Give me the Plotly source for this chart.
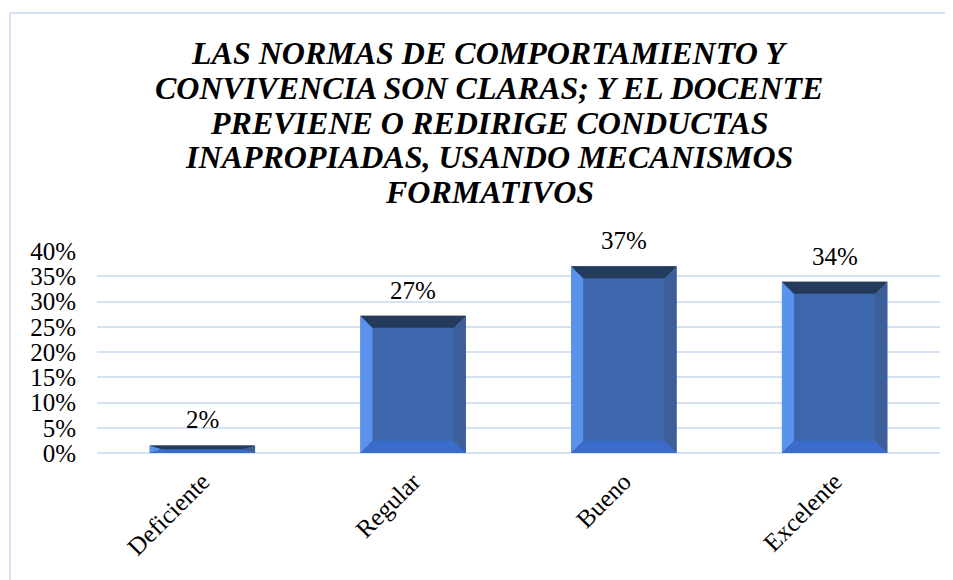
import plotly.graph_objects as go

# Datos
categorias = ["Deficiente", "Regular", "Bueno", "Excelente"]
valores = [0.015, 0.272, 0.370, 0.339]
etiquetas = ["2%", "27%", "37%", "34%"]
ticks_y = [0, 0.05, 0.10, 0.15, 0.20, 0.25, 0.30, 0.35, 0.40]

titulo = ["LAS NORMAS DE COMPORTAMIENTO Y",
          "CONVIVENCIA SON CLARAS; Y EL DOCENTE",
          "PREVIENE O REDIRIGE CONDUCTAS",
          "INAPROPIADAS, USANDO MECANISMOS",
          "FORMATIVOS"]

# la página tiene 8px de margen en el body
W, H = 945, 572
L, R, T, B = 89, 13, 243, 127
plot_w = W - L - R
plot_h = H - T - B
y_max = 0.40
ancho = 0.5
fuente = "Liberation Serif"

xs = list(range(len(categorias)))


def px_x(p):
    return (p - L) / plot_w


def px_y(p):
    return (T + plot_h - p) / plot_h


fig = go.Figure()
fig.add_trace(go.Bar(
    x=xs, y=valores, width=ancho,
    marker=dict(color="#3D67AD", line=dict(width=0)),
    hoverinfo="skip",
))

# Efecto de bisel en cada barra
bx = 12 / (plot_w / len(categorias))
by_full = 12 * y_max / plot_h
shapes = []


def poly(pts, color):
    path = "M " + " L ".join(f"{x},{y}" for x, y in pts) + " Z"
    return dict(type="path", path=path, xref="x", yref="y",
                fillcolor=color, line=dict(width=0), layer="above")


for x, v in zip(xs, valores):
    x0, x1 = x - ancho / 2, x + ancho / 2
    by = min(by_full, v / 2)
    shapes.append(poly([(x0, 0), (x0, v), (x0 + bx, v - by), (x0 + bx, by)], "#5A93EE"))
    shapes.append(poly([(x1, 0), (x1, v), (x1 - bx, v - by), (x1 - bx, by)], "#3C5F99"))
    shapes.append(poly([(x0, 0), (x1, 0), (x1 - bx, by), (x0 + bx, by)], "#3A6CCB"))
    shapes.append(poly([(x0, v), (x1, v), (x1 - bx, v - by), (x0 + bx, v - by)], "#243B5C"))

# Marco del gráfico
shapes.append(dict(type="rect", xref="paper", yref="paper",
                   x0=px_x(2), x1=px_x(W + 5), y0=px_y(H + 5), y1=px_y(5),
                   line=dict(color="#D5E2F3", width=2), fillcolor="rgba(0,0,0,0)",
                   layer="below"))

anotaciones = []
# Título, línea por línea
for i, linea in enumerate(titulo):
    anotaciones.append(dict(
        text=linea, xref="paper", yref="paper",
        x=px_x(481), y=px_y(45 + i * 34.75), xanchor="center", yanchor="middle",
        showarrow=False,
        font=dict(family=fuente, size=32, color="#000000", weight="bold", style="italic"),
    ))

# Etiquetas de datos
for x, v, t in zip(xs, valores, etiquetas):
    anotaciones.append(dict(
        text=t, x=x, y=v, xref="x", yref="y", xanchor="center", yanchor="bottom",
        yshift=10, showarrow=False,
        font=dict(family=fuente, size=25, color="#000000"),
    ))

fig.update_layout(
    width=W, height=H,
    margin=dict(l=L, r=R, t=T, b=B),
    paper_bgcolor="white", plot_bgcolor="white",
    showlegend=False,
    shapes=shapes,
    annotations=anotaciones,
    font=dict(family=fuente, size=25, color="#000000"),
)
fig.update_xaxes(
    range=[-0.5, len(categorias) - 0.5],
    tickvals=xs, ticktext=categorias, tickangle=-45,
    tickfont=dict(family=fuente, size=25),
    showgrid=False, zeroline=False, showline=False, ticks="",
    ticklabelstandoff=8,
)
fig.update_yaxes(
    range=[0, y_max], tickvals=ticks_y, tickformat=".0%",
    tickfont=dict(family=fuente, size=25),
    showgrid=True, gridcolor="#D5E2F3", gridwidth=2,
    zeroline=True, zerolinecolor="#D5E2F3", zerolinewidth=2,
    showline=False, ticks="", ticklabelstandoff=20,
)

fig.write_html("out.html")
